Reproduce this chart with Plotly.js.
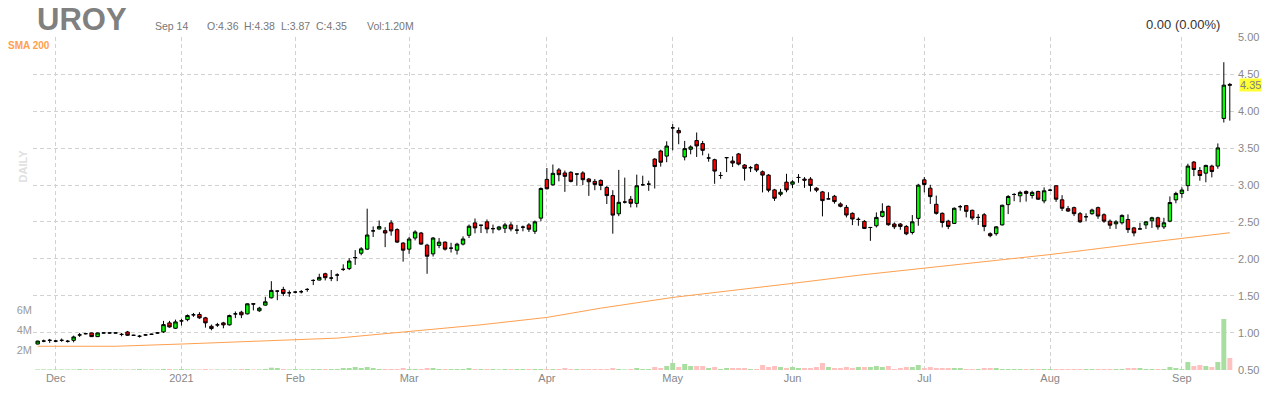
<!DOCTYPE html>
<html>
<head>
<meta charset="utf-8">
<script src="https://cdn.plot.ly/plotly-3.0.1.min.js"></script>
<style>
html,body{margin:0;padding:0;background:#fff;}
#chart{width:1280px;height:400px;}
</style>
</head>
<body>
<div id="chart"></div>
<script>
const dates = [
"2020-11-25","2020-11-27","2020-11-30",
"2020-12-01","2020-12-02","2020-12-03","2020-12-04","2020-12-07","2020-12-08","2020-12-09","2020-12-10","2020-12-11","2020-12-14","2020-12-15","2020-12-16","2020-12-17","2020-12-18","2020-12-21","2020-12-22","2020-12-23","2020-12-28","2020-12-29","2020-12-30","2020-12-31",
"2021-01-04","2021-01-05","2021-01-06","2021-01-07","2021-01-08","2021-01-11","2021-01-12","2021-01-13","2021-01-14","2021-01-15","2021-01-19","2021-01-20","2021-01-21","2021-01-22","2021-01-25","2021-01-26","2021-01-27","2021-01-28","2021-01-29",
"2021-02-01","2021-02-02","2021-02-03","2021-02-04","2021-02-05","2021-02-08","2021-02-09","2021-02-10","2021-02-11","2021-02-12","2021-02-16","2021-02-17","2021-02-18","2021-02-19","2021-02-22","2021-02-23","2021-02-24","2021-02-25","2021-02-26",
"2021-03-01","2021-03-02","2021-03-03","2021-03-04","2021-03-05","2021-03-08","2021-03-09","2021-03-10","2021-03-11","2021-03-12","2021-03-15","2021-03-16","2021-03-17","2021-03-18","2021-03-19","2021-03-22","2021-03-23","2021-03-24","2021-03-25","2021-03-26","2021-03-29","2021-03-30","2021-03-31",
"2021-04-01","2021-04-05","2021-04-06","2021-04-07","2021-04-08","2021-04-09","2021-04-12","2021-04-13","2021-04-14","2021-04-15","2021-04-16","2021-04-19","2021-04-20","2021-04-21","2021-04-22","2021-04-23","2021-04-26","2021-04-27","2021-04-28","2021-04-29","2021-04-30",
"2021-05-03","2021-05-04","2021-05-05","2021-05-06","2021-05-07","2021-05-10","2021-05-11","2021-05-12","2021-05-13","2021-05-14","2021-05-17","2021-05-18","2021-05-19","2021-05-20","2021-05-21","2021-05-24","2021-05-25","2021-05-26","2021-05-27","2021-05-28",
"2021-06-01","2021-06-02","2021-06-03","2021-06-04","2021-06-07","2021-06-08","2021-06-09","2021-06-10","2021-06-11","2021-06-14","2021-06-15","2021-06-16","2021-06-17","2021-06-18","2021-06-21","2021-06-22","2021-06-23","2021-06-24","2021-06-25","2021-06-28","2021-06-29","2021-06-30",
"2021-07-01","2021-07-02","2021-07-06","2021-07-07","2021-07-08","2021-07-09","2021-07-12","2021-07-13","2021-07-14","2021-07-15","2021-07-16","2021-07-19","2021-07-20","2021-07-21","2021-07-22","2021-07-23","2021-07-26","2021-07-27","2021-07-28","2021-07-29","2021-07-30",
"2021-08-02","2021-08-03","2021-08-04","2021-08-05","2021-08-06","2021-08-09","2021-08-10","2021-08-11","2021-08-12","2021-08-13","2021-08-16","2021-08-17","2021-08-18","2021-08-19","2021-08-20","2021-08-23","2021-08-24","2021-08-25","2021-08-26","2021-08-27","2021-08-30","2021-08-31",
"2021-09-01","2021-09-02","2021-09-03","2021-09-07","2021-09-08","2021-09-09","2021-09-10","2021-09-13","2021-09-14"
];

const open = [
0.85,0.89,0.90,0.89,0.90,0.887,0.90,0.973,0.99,1.00,0.95,1.00,1.00,1.00,0.98,1.013,0.968,0.955,0.973,0.982,
1.00,1.014,1.136,1.063,1.163,1.18,1.245,1.25,1.204,1.09,1.109,1.136,1.109,1.258,1.28,1.258,1.395,1.30,1.376,1.475,
1.566,1.588,1.543,1.552,1.557,1.588,1.71,1.715,1.80,1.742,1.783,1.86,1.87,2.015,2.078,2.133,2.38,2.406,2.383,2.488,
2.397,2.215,2.133,2.283,2.351,2.187,2.069,2.183,2.228,2.146,2.119,2.201,2.32,2.488,2.456,2.502,2.41,2.402,2.415,2.461,
2.39,2.43,2.461,2.374,2.552,3.076,3.003,3.204,3.163,3.172,3.149,3.163,3.081,3.049,3.062,2.967,2.857,2.611,2.77,2.807,
2.752,3.003,3.012,3.35,3.459,3.391,3.773,3.737,3.379,3.483,3.601,3.56,3.365,3.342,3.129,3.37,3.324,3.42,3.27,3.234,
3.274,3.179,3.134,2.934,2.875,3.039,3.011,3.102,3.08,3.08,2.957,2.907,2.812,2.848,2.744,2.698,2.617,2.535,2.508,2.426,
2.449,2.576,2.712,2.472,2.472,2.44,2.358,2.549,3.07,2.957,2.739,2.617,2.512,2.481,2.707,2.721,2.658,2.562,2.598,2.342,
2.342,2.461,2.735,2.872,2.854,2.913,2.858,2.913,2.785,2.93,2.99,2.80,2.68,2.694,2.612,2.571,2.612,2.694,2.598,2.511,
2.475,2.489,2.534,2.42,2.406,2.461,2.516,2.557,2.434,2.511,2.799,2.886,2.991,3.31,3.196,3.16,3.256,3.256,3.90,4.36
];
const high = [
0.895,0.91,0.92,0.905,0.925,0.905,0.964,1.00,1.00,1.005,1.005,1.005,1.005,1.005,1.00,1.027,0.975,0.973,0.98,0.99,
1.01,1.163,1.163,1.18,1.19,1.25,1.27,1.28,1.217,1.113,1.136,1.15,1.248,1.29,1.30,1.40,1.40,1.353,1.489,1.70,
1.575,1.624,1.575,1.566,1.58,1.606,1.724,1.80,1.814,1.851,1.806,1.928,2.01,2.12,2.16,2.68,2.44,2.52,2.43,2.525,
2.415,2.228,2.297,2.388,2.365,2.205,2.297,2.283,2.237,2.219,2.219,2.306,2.466,2.547,2.456,2.534,2.465,2.447,2.488,2.497,
2.461,2.452,2.484,2.52,2.967,3.23,3.277,3.23,3.195,3.186,3.149,3.186,3.095,3.081,3.076,2.99,2.93,3.204,3.10,2.852,
3.14,3.126,3.058,3.363,3.477,3.591,3.823,3.778,3.596,3.537,3.71,3.596,3.424,3.356,3.175,3.37,3.388,3.433,3.283,3.256,
3.288,3.197,3.147,2.948,2.948,3.152,3.066,3.147,3.107,3.107,2.971,2.92,2.902,2.866,2.766,2.73,2.63,2.562,2.526,2.426,
2.63,2.753,2.721,2.494,2.485,2.458,2.594,3.016,3.107,3.003,2.857,2.63,2.53,2.698,2.73,2.73,2.667,2.608,2.62,2.36,
2.443,2.735,2.863,2.89,2.922,2.927,2.922,2.922,2.968,2.95,2.998,2.863,2.717,2.708,2.635,2.617,2.68,2.708,2.617,2.534,
2.525,2.603,2.603,2.434,2.489,2.511,2.571,2.571,2.557,2.845,2.909,2.968,3.288,3.324,3.242,3.274,3.274,3.562,4.66,4.38
];
const low = [
0.845,0.875,0.865,0.875,0.88,0.87,0.873,0.946,0.98,0.945,0.945,0.995,0.995,0.995,0.955,0.96,0.96,0.937,0.965,0.975,
0.99,1.00,1.072,1.054,1.10,1.158,1.218,1.19,1.072,1.036,1.082,1.063,1.10,1.20,1.20,1.25,1.305,1.285,1.371,1.466,
1.443,1.498,1.489,1.534,1.534,1.557,1.647,1.71,1.71,1.70,1.70,1.837,1.85,1.92,2.05,2.124,2.297,2.397,2.16,2.315,
2.215,1.964,2.07,2.251,2.192,1.80,2.033,2.146,2.114,2.087,2.06,2.183,2.283,2.347,2.351,2.347,2.347,2.383,2.351,2.374,
2.338,2.374,2.365,2.338,2.51,2.94,2.99,3.049,2.907,3.035,2.99,3.00,2.853,2.93,2.93,2.743,2.342,2.579,2.75,2.697,
2.697,2.99,2.921,2.953,3.249,3.308,3.469,3.551,3.333,3.415,3.379,3.401,3.315,3.016,3.084,3.175,3.243,3.265,3.06,3.175,
3.175,2.90,2.902,2.785,2.848,2.902,2.957,3.03,2.961,2.911,2.903,2.576,2.812,2.748,2.698,2.562,2.458,2.449,2.404,2.245,
2.426,2.562,2.449,2.404,2.395,2.322,2.331,2.449,2.90,2.744,2.599,2.426,2.404,2.472,2.653,2.562,2.526,2.46,2.375,2.293,
2.315,2.452,2.607,2.781,2.767,2.776,2.817,2.799,2.753,2.918,2.772,2.648,2.635,2.58,2.489,2.512,2.598,2.543,2.489,2.407,
2.407,2.466,2.352,2.306,2.406,2.406,2.42,2.397,2.406,2.497,2.753,2.826,2.918,3.12,3.058,3.037,3.103,3.22,3.845,3.87
];
const close = [
0.89,0.89,0.90,0.89,0.90,0.887,0.946,0.973,0.99,0.95,1.00,1.00,1.00,1.00,0.98,0.968,0.968,0.955,0.973,0.982,
1.00,1.113,1.081,1.149,1.163,1.235,1.245,1.204,1.136,1.059,1.109,1.109,1.235,1.258,1.245,1.394,1.39,1.335,1.421,1.575,
1.566,1.534,1.543,1.552,1.557,1.588,1.71,1.751,1.747,1.742,1.783,1.86,1.972,2.02,2.137,2.324,2.38,2.438,2.351,2.379,
2.228,2.119,2.27,2.365,2.201,2.037,2.283,2.228,2.133,2.146,2.201,2.27,2.443,2.42,2.456,2.406,2.41,2.433,2.461,2.406,
2.39,2.43,2.402,2.502,2.953,2.949,3.158,3.14,3.117,3.049,3.149,3.072,3.044,3.008,2.994,2.857,2.593,2.766,2.77,2.752,
2.99,3.003,3.012,3.249,3.308,3.527,3.773,3.705,3.492,3.515,3.528,3.469,3.365,3.188,3.129,3.37,3.297,3.283,3.225,3.234,
3.202,3.134,2.93,2.821,2.902,2.934,3.043,3.102,3.066,2.993,2.93,2.789,2.812,2.776,2.712,2.594,2.54,2.535,2.413,2.426,
2.562,2.644,2.463,2.435,2.44,2.34,2.503,2.998,3.007,2.843,2.617,2.494,2.44,2.685,2.707,2.644,2.553,2.562,2.438,2.315,
2.434,2.726,2.845,2.872,2.90,2.886,2.90,2.808,2.922,2.93,2.808,2.685,2.648,2.612,2.502,2.571,2.662,2.58,2.511,2.457,
2.502,2.589,2.397,2.352,2.406,2.502,2.557,2.434,2.489,2.763,2.886,2.932,3.256,3.21,3.128,3.265,3.183,3.502,4.35,4.35
];
const volume = [
0.06,0.06,0.06,0.06,0.06,0.06,0.06,0.10,0.06,0.10,0.06,0.06,0.06,0.06,0.06,0.06,0.06,0.10,0.06,0.06,
0.06,0.10,0.10,0.06,0.10,0.06,0.06,0.06,0.10,0.06,0.06,0.06,0.06,0.06,0.10,0.10,0.06,0.06,0.10,0.23,
0.20,0.10,0.06,0.10,0.06,0.06,0.10,0.10,0.10,0.10,0.10,0.20,0.20,0.30,0.20,0.30,0.20,0.10,0.10,0.10,
0.10,0.20,0.10,0.10,0.10,0.20,0.20,0.10,0.10,0.10,0.10,0.10,0.20,0.10,0.10,0.10,0.10,0.06,0.10,0.10,
0.10,0.10,0.10,0.10,0.10,0.10,0.10,0.10,0.20,0.10,0.10,0.10,0.10,0.10,0.10,0.10,0.20,0.10,0.06,0.10,
0.20,0.10,0.10,0.30,0.20,0.40,0.70,0.30,0.60,0.40,0.40,0.40,0.20,0.30,0.10,0.20,0.20,0.20,0.20,0.10,
0.10,0.50,0.30,0.40,0.30,0.20,0.30,0.20,0.20,0.20,0.30,0.70,0.30,0.20,0.20,0.30,0.20,0.30,0.30,0.30,
0.40,0.30,0.40,0.10,0.20,0.30,0.30,0.50,0.20,0.30,0.20,0.20,0.20,0.20,0.20,0.10,0.10,0.10,0.20,0.20,
0.20,0.10,0.10,0.10,0.10,0.10,0.10,0.10,0.10,0.10,0.10,0.10,0.10,0.10,0.10,0.10,0.10,0.10,0.10,0.10,
0.10,0.10,0.20,0.20,0.20,0.10,0.10,0.10,0.10,0.30,0.20,0.10,0.80,0.40,0.50,0.40,0.30,0.80,5.10,1.20
];

const smaDates = ["2020-11-25","2020-12-15","2021-01-04","2021-01-22","2021-02-10","2021-03-01","2021-03-17","2021-04-01","2021-04-15","2021-05-03","2021-05-17","2021-06-01","2021-06-16","2021-06-30","2021-07-15","2021-07-23","2021-08-02","2021-08-26","2021-09-01","2021-09-14"];
const smaValues = [0.82,0.82,0.85,0.886,0.93,1.02,1.11,1.21,1.335,1.48,1.57,1.67,1.78,1.867,1.95,2.00,2.06,2.24,2.28,2.355];

const tickDates = ["2020-12-01","2021-01-04","2021-02-01","2021-03-01","2021-04-01","2021-05-03","2021-06-01","2021-07-01","2021-08-02","2021-09-01"];
const tickLabels = ["Dec","2021","Feb","Mar","Apr","May","Jun","Jul","Aug","Sep"];
const priceTicks = [0.5,1.0,1.5,2.0,2.5,3.0,3.5,4.0,4.5,5.0];
const volTicks = [2,4,6];
const volLabels = ["2M","4M","6M"];

const header = {ticker:"UROY", date:"Sep 14", o:"O:4.36", h:"H:4.38", l:"L:3.87", c:"C:4.35", vol:"Vol:1.20M", change:"0.00 (0.00%)", last:4.35};

// layout geometry (pixels)
const W = 1280, H = 400, ML = 33, MR = 43, MT = 37, MB = 30;
const PW = W - ML - MR, PH = H - MT - MB;
const px = x => (x - ML) / PW;
const py = y => (H - MB - y) / PH;

const volColors = close.map((c, i) => c >= open[i] ? '#a9dea1' : '#ffc0c0');
const FONT = 'Liberation Sans, Arial, sans-serif';

const traces = [
  {type:'scatter', mode:'lines', x:smaDates, y:smaValues, line:{color:'#ffa04f', width:1}, hoverinfo:'skip', showlegend:false},
  {type:'candlestick', x:dates, open:open, high:high, low:low, close:close,
   increasing:{fillcolor:'#00ff00', line:{color:'#000000', width:1}},
   decreasing:{fillcolor:'#ff0000', line:{color:'#000000', width:1}},
   whiskerwidth:0, showlegend:false},
  {type:'bar', x:dates, y:volume, yaxis:'y2', marker:{color:volColors, line:{width:0}}, width:0.83, showlegend:false, hoverinfo:'skip'}
];

const gridColor = '#d2d2d2';
const layout = {
  width:W, height:H,
  margin:{l:ML, r:MR, t:MT, b:MB, pad:0},
  paper_bgcolor:'#ffffff', plot_bgcolor:'#ffffff',
  showlegend:false,
  boxgap:0.18,
  font:{family:FONT, size:11, color:'#888888'},
  xaxis:{type:'category', categoryorder:'array', categoryarray:dates,
    range:[-0.785, 200.2], tickmode:'array', tickvals:tickDates, ticktext:tickLabels,
    showgrid:true, gridcolor:gridColor, griddash:'4px,3px', gridwidth:1,
    zeroline:false, showline:false, ticks:'', tickfont:{size:11, color:'#888888'},
    rangeslider:{visible:false}, fixedrange:true},
  yaxis:{side:'right', range:[0.499, 5.001], tickmode:'array', tickvals:priceTicks,
    tickformat:'.2f', showgrid:true, gridcolor:gridColor, griddash:'4px,3px', gridwidth:1,
    zeroline:false, showline:false, ticks:'', tickfont:{size:11, color:'#888888'}, fixedrange:true},
  yaxis2:{overlaying:'y', side:'left', range:[0, 33.3], tickmode:'array', tickvals:volTicks, ticktext:volLabels,
    showgrid:false, zeroline:false, showline:false, ticks:'', tickfont:{size:11, color:'#9a9a9a'}, fixedrange:true},
  annotations:[
    {xref:'paper', yref:'paper', x:px(35), y:py(19), xanchor:'left', yanchor:'middle', showarrow:false,
     text:'<b>'+header.ticker+'</b>', font:{family:FONT, size:31, color:'#808080'}},
    {xref:'paper', yref:'paper', x:px(153), y:py(26), xanchor:'left', yanchor:'middle', showarrow:false,
     text:header.date, font:{family:FONT, size:10.5, color:'#777777'}},
    {xref:'paper', yref:'paper', x:px(205), y:py(26), xanchor:'left', yanchor:'middle', showarrow:false,
     text:header.o, font:{family:FONT, size:10.5, color:'#777777'}},
    {xref:'paper', yref:'paper', x:px(242), y:py(26), xanchor:'left', yanchor:'middle', showarrow:false,
     text:header.h, font:{family:FONT, size:10.5, color:'#777777'}},
    {xref:'paper', yref:'paper', x:px(279), y:py(26), xanchor:'left', yanchor:'middle', showarrow:false,
     text:header.l, font:{family:FONT, size:10.5, color:'#777777'}},
    {xref:'paper', yref:'paper', x:px(314), y:py(26), xanchor:'left', yanchor:'middle', showarrow:false,
     text:header.c, font:{family:FONT, size:10.5, color:'#777777'}},
    {xref:'paper', yref:'paper', x:px(365), y:py(26), xanchor:'left', yanchor:'middle', showarrow:false,
     text:header.vol, font:{family:FONT, size:10.5, color:'#777777'}},
    {xref:'paper', yref:'paper', x:px(1222), y:py(25), xanchor:'right', yanchor:'middle', showarrow:false,
     text:header.change, font:{family:FONT, size:13, color:'#333333'}},
    {xref:'paper', yref:'paper', x:px(6), y:py(46), xanchor:'left', yanchor:'middle', showarrow:false,
     text:'<b>SMA 200</b>', font:{family:FONT, size:10, color:'#ffa04f'}},
    {xref:'paper', yref:'paper', x:px(22.5), y:py(166), xanchor:'center', yanchor:'middle', showarrow:false, textangle:-90,
     text:'<b>DAILY</b>', font:{family:FONT, size:11, color:'#e0e0e0'}},
    {xref:'paper', yref:'y', x:px(1239), y:header.last, xanchor:'left', yanchor:'middle', showarrow:false,
     text:header.last.toFixed(2), bgcolor:'#ffff33', borderpad:0, font:{family:FONT, size:11, color:'#808080'}}
  ]
};

Plotly.newPlot('chart', traces, layout, {staticPlot:true, displayModeBar:false});
</script>
</body>
</html>
